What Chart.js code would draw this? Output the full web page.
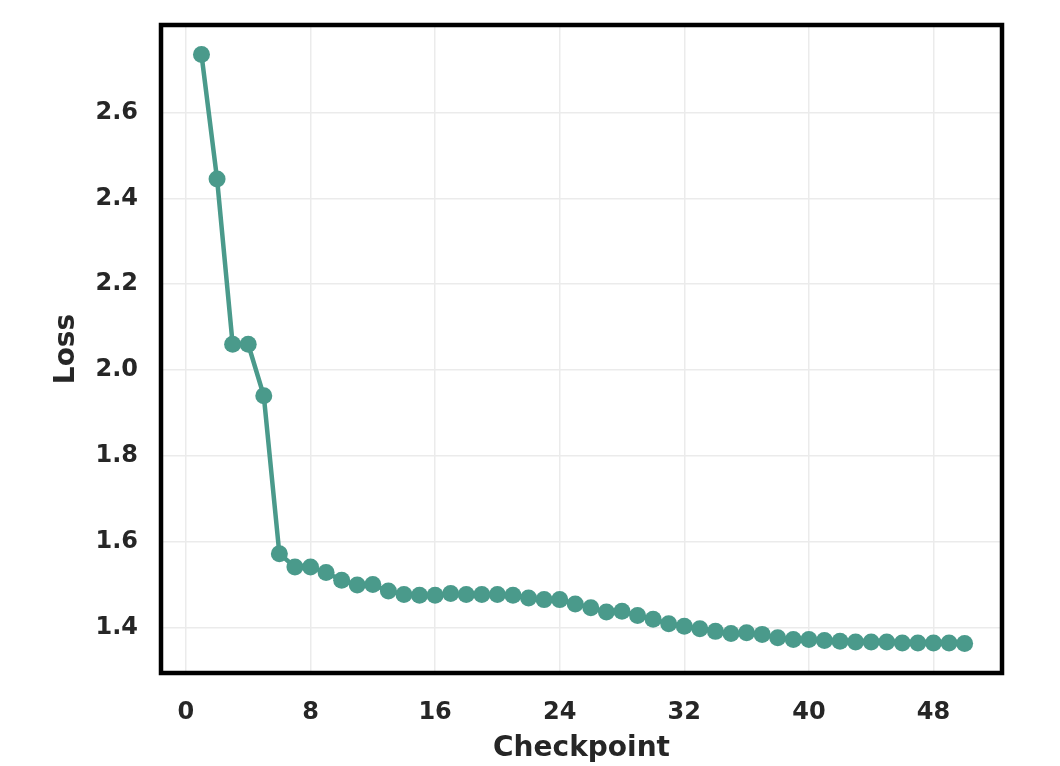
<!DOCTYPE html>
<html>
<head>
<meta charset="utf-8">
<script src="https://cdn.jsdelivr.net/npm/chart.js@4.4.1/dist/chart.umd.min.js"></script>
<style>
  html, body { margin: 0; padding: 0; background: #ffffff; }
  #wrap { width: 1060px; height: 766px; position: relative; }
</style>
</head>
<body>
<div id="wrap"><canvas id="c" width="1060" height="766"></canvas></div>
<script>
const checkpoints = [1,2,3,4,5,6,7,8,9,10,11,12,13,14,15,16,17,18,19,20,21,22,23,24,25,26,27,28,29,30,31,32,33,34,35,36,37,38,39,40,41,42,43,44,45,46,47,48,49,50];
const lossValues = [2.735,2.445,2.060,2.060,1.940,1.572,1.541,1.541,1.528,1.510,
                    1.499,1.500,1.485,1.477,1.475,1.475,1.479,1.477,1.477,1.477,
                    1.475,1.469,1.465,1.465,1.455,1.446,1.436,1.438,1.428,1.419,
                    1.409,1.403,1.397,1.391,1.386,1.388,1.384,1.376,1.372,1.372,
                    1.370,1.368,1.366,1.366,1.366,1.364,1.364,1.364,1.364,1.363];
const xTickValues = [0,8,16,24,32,40,48];
const yTickValues = [1.4,1.6,1.8,2.0,2.2,2.4,2.6];
const xTitle = 'Checkpoint';
const yTitle = 'Loss';

const FONT = "'DejaVu Sans', sans-serif";
const TEXT = '#262626';
const LINE = '#4a9a8b';

const frame = {
  id: 'frame',
  afterDatasetsDraw(chart) {
    const a = chart.chartArea, ctx = chart.ctx;
    ctx.save();
    ctx.strokeStyle = '#000';
    ctx.lineWidth = 4.5;
    ctx.strokeRect(a.left, a.top, a.right - a.left, a.bottom - a.top);
    ctx.restore();
  }
};

new Chart(document.getElementById('c'), {
  type: 'line',
  data: {
    datasets: [{
      data: checkpoints.map((x, i) => ({x: x, y: lossValues[i]})),
      borderColor: LINE,
      backgroundColor: LINE,
      borderWidth: 4.5,
      pointRadius: 8.5,
      pointBorderWidth: 0,
      pointBackgroundColor: LINE,
      tension: 0,
      clip: false
    }]
  },
  options: {
    responsive: false,
    animation: false,
    devicePixelRatio: 1,
    layout: { padding: { top: 25, right: 58, bottom: 0, left: 0 } },
    plugins: { legend: { display: false }, tooltip: { enabled: false } },
    scales: {
      x: {
        type: 'linear',
        min: -1.6,
        max: 52.4,
        afterBuildTicks: s => { s.ticks = xTickValues.map(v => ({value: v})); },
        afterFit: s => { s.height = 93; s.paddingLeft = 0; s.paddingRight = 0; },
        grid: { color: '#ebebeb', lineWidth: 1.5, drawTicks: false },
        border: { display: false },
        ticks: { color: TEXT, font: { family: FONT, size: 24, weight: 'bold' }, padding: 25, maxRotation: 0 },
        title: { display: true, text: xTitle, color: TEXT, font: { family: FONT, size: 28, weight: 'bold' }, padding: { top: 0, bottom: 0 } }
      },
      y: {
        type: 'linear',
        min: 1.294,
        max: 2.804,
        afterBuildTicks: s => { s.ticks = yTickValues.map(v => ({value: v})); },
        afterFit: s => { s.width = 161; s.paddingTop = 0; s.paddingBottom = 0; },
        grid: { color: '#ebebeb', lineWidth: 1.5, drawTicks: false },
        border: { display: false },
        ticks: { color: TEXT, font: { family: FONT, size: 24, weight: 'bold' }, padding: 23, callback: v => v.toFixed(1) },
        title: { display: true, text: yTitle, color: TEXT, font: { family: FONT, size: 28, weight: 'bold' }, padding: { top: 50, bottom: 0 } }
      }
    }
  },
  plugins: [frame]
});
</script>
</body>
</html>
